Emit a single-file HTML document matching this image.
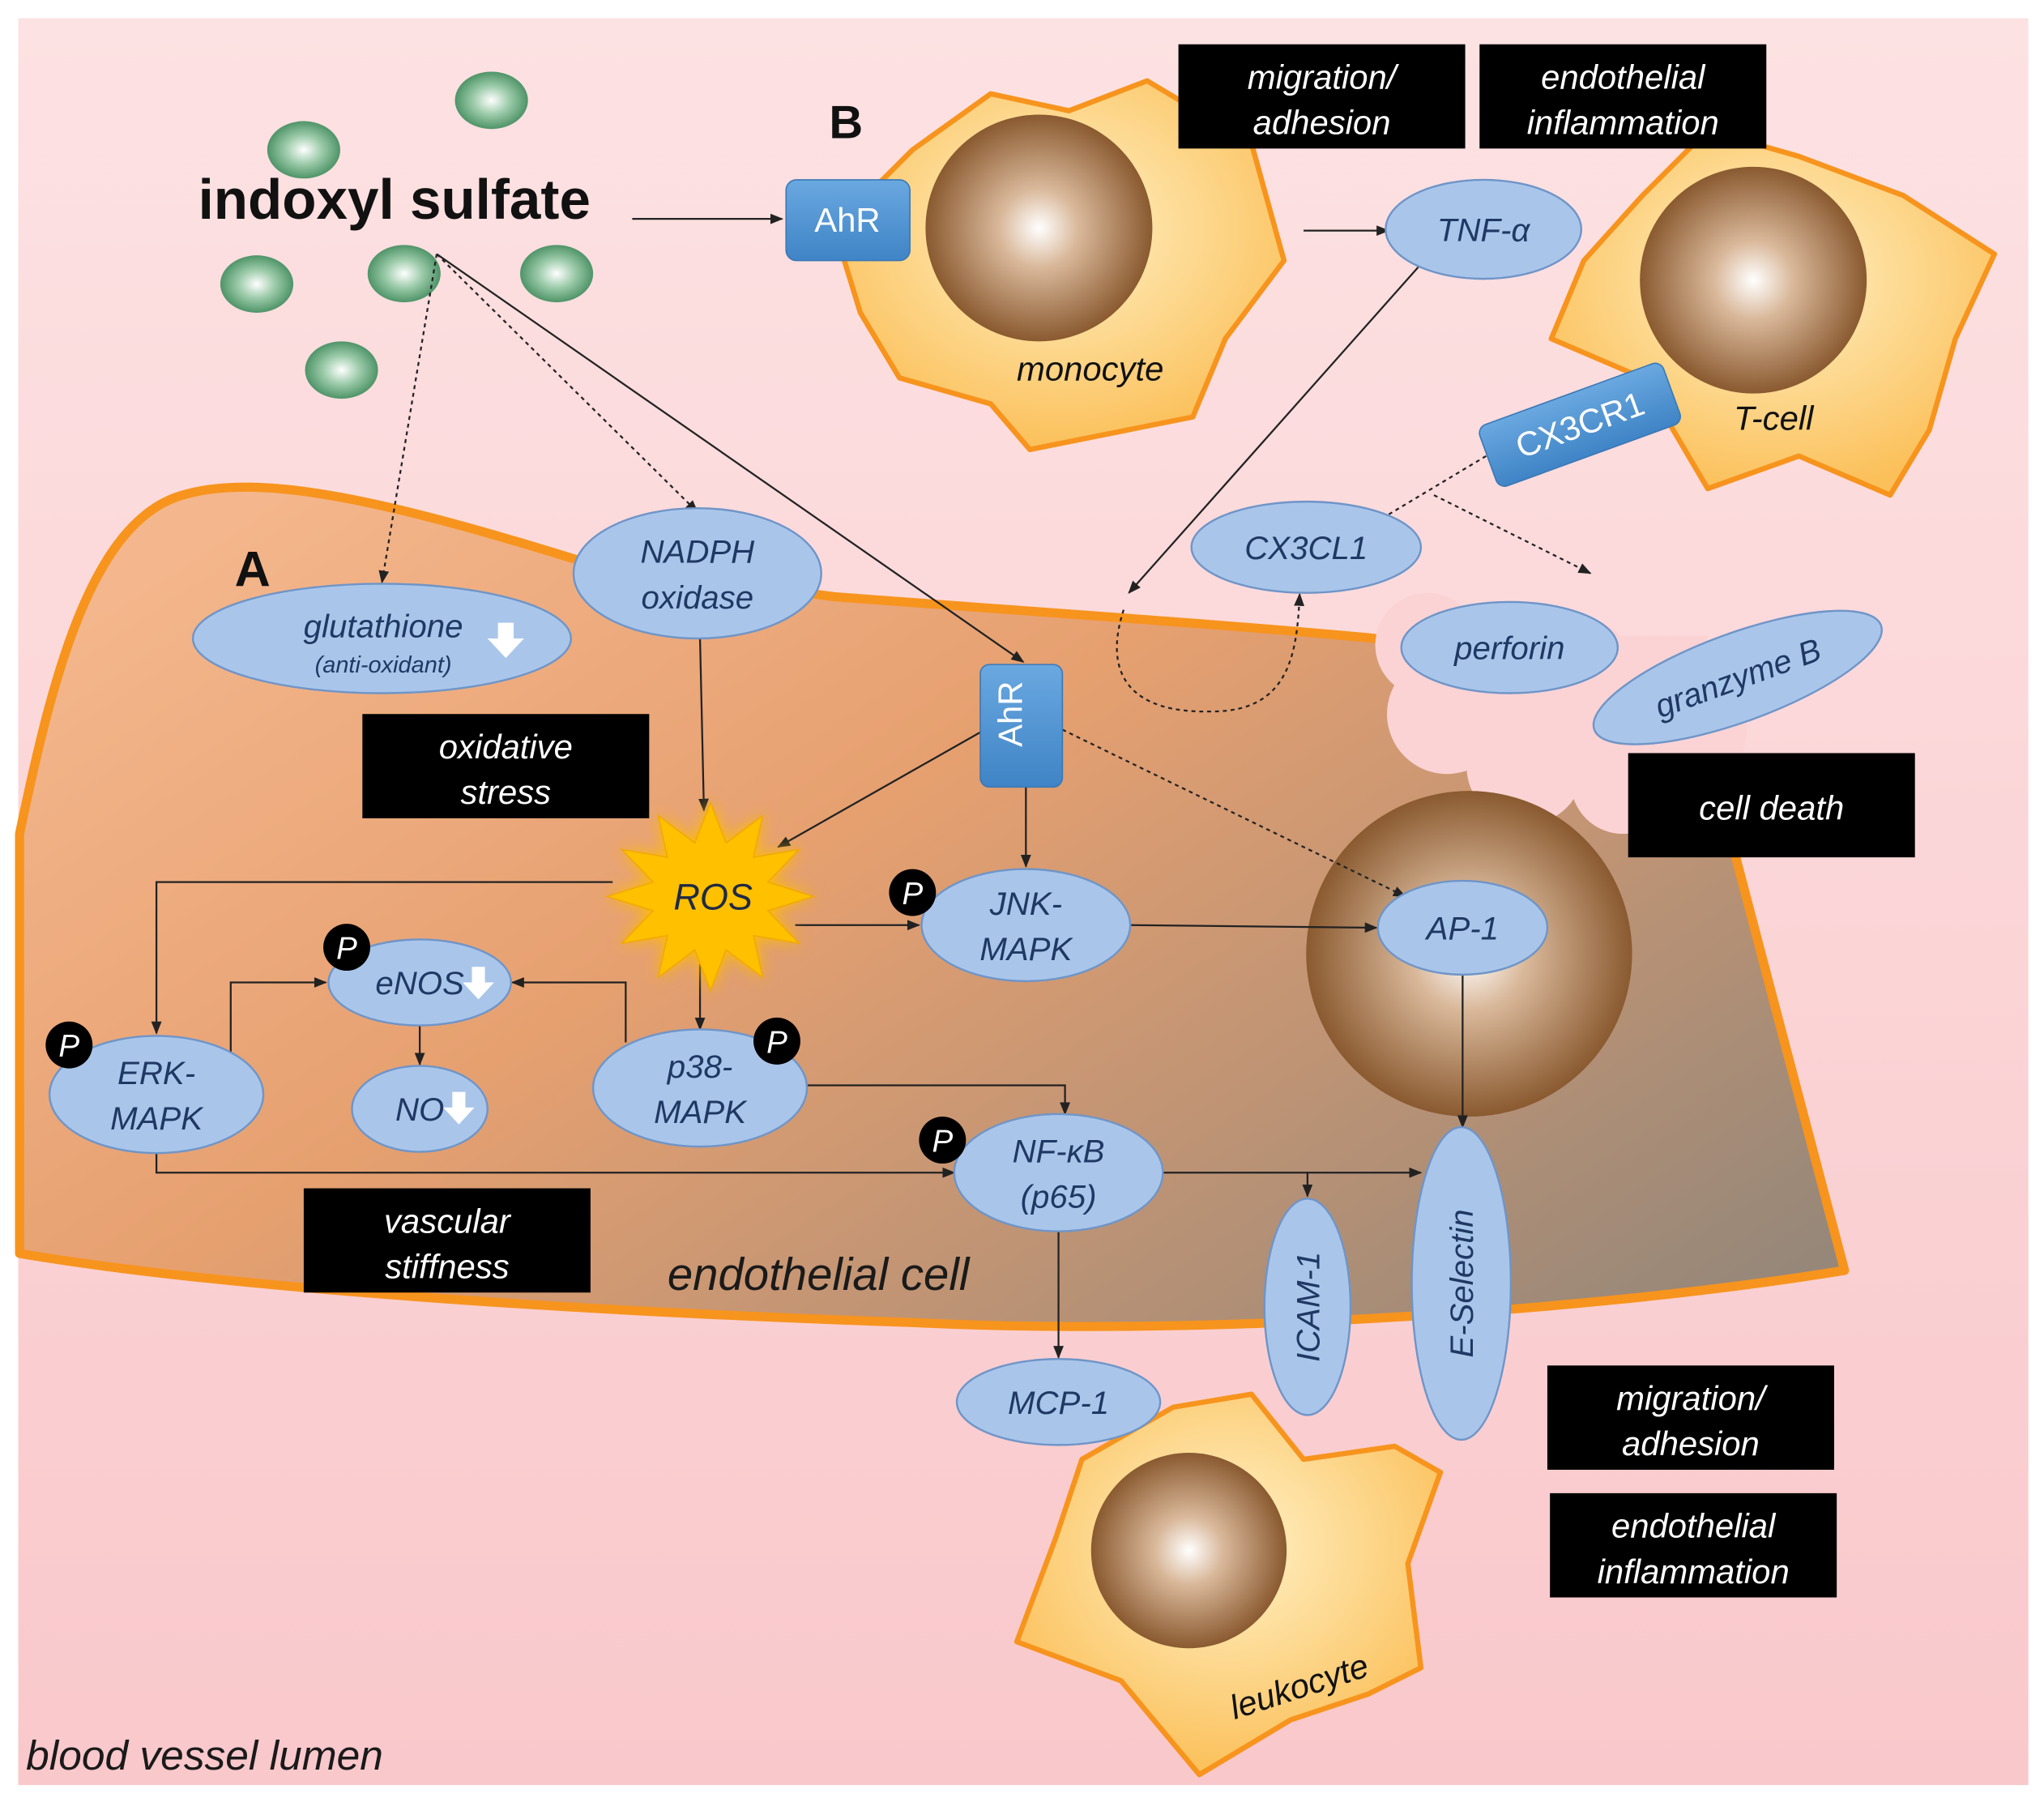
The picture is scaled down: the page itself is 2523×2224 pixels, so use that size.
<!DOCTYPE html>
<html><head><meta charset="utf-8"><style>html,body{margin:0;padding:0;background:#fff}svg{display:block}</style></head><body>
<svg width="2523" height="2224" viewBox="0 0 1568 1383" preserveAspectRatio="none" xmlns="http://www.w3.org/2000/svg" font-family="Liberation Sans, sans-serif">
<defs>
<linearGradient id="bg" x1="0" y1="0" x2="0" y2="1"><stop offset="0" stop-color="#fde2e3"/><stop offset="1" stop-color="#f9c8cb"/></linearGradient>
<linearGradient id="cell" x1="0" y1="0.2" x2="1" y2="0.9"><stop offset="0" stop-color="#f4b68c"/><stop offset="0.4" stop-color="#e6a070"/><stop offset="1" stop-color="#968779"/></linearGradient>
<radialGradient id="nuc" cx="0.5" cy="0.5" r="0.5"><stop offset="0" stop-color="#ffffff"/><stop offset="0.35" stop-color="#d9b89a"/><stop offset="1" stop-color="#8a5a30"/></radialGradient>
<radialGradient id="yc" cx="0.5" cy="0.4" r="0.6"><stop offset="0" stop-color="#fff2c8"/><stop offset="1" stop-color="#fbc05a"/></radialGradient>
<radialGradient id="gb" cx="0.5" cy="0.5" r="0.5"><stop offset="0" stop-color="#ffffff"/><stop offset="0.5" stop-color="#9ccbaa"/><stop offset="1" stop-color="#4f9468"/></radialGradient>
<linearGradient id="ahr" x1="0" y1="0" x2="0" y2="1"><stop offset="0" stop-color="#6aa8e0"/><stop offset="1" stop-color="#3f84c6"/></linearGradient>
<filter id="glow" x="-50%" y="-50%" width="200%" height="200%"><feGaussianBlur stdDeviation="6" result="b"/><feMerge><feMergeNode in="b"/><feMergeNode in="SourceGraphic"/></feMerge></filter>
<marker id="ar" markerWidth="10" markerHeight="8" refX="9" refY="4" orient="auto" markerUnits="userSpaceOnUse"><path d="M0,0 L10,4 L0,8 z" fill="#222"/></marker>
</defs>
<rect x="0" y="0" width="1568" height="1383" fill="#fff"/>
<rect x="14" y="14" width="1542" height="1356" fill="url(#bg)"/>

<path d="M15,640 C40,520 70,400 140,380 C200,362 300,385 450,432 L640,458 C800,470 950,480 1055,490 L1290,500 L1415,975 C1200,1010 900,1025 700,1015 C400,1005 150,985 15,962 Z" fill="url(#cell)" stroke="#f7941d" stroke-width="7" stroke-linejoin="round"/>
<g fill="#fbd3d5">
<circle cx="1095" cy="495" r="40"/><circle cx="1110" cy="548" r="46"/><circle cx="1170" cy="588" r="45"/><circle cx="1245" cy="600" r="40"/><circle cx="1200" cy="530" r="60"/><circle cx="1290" cy="560" r="50"/><rect x="1080" y="488" width="230" height="50"/>
</g>
<circle cx="1127" cy="732" r="125" fill="url(#nuc)"/>

<g fill="url(#gb)">
<ellipse cx="377" cy="77" rx="28" ry="22"/><ellipse cx="233" cy="115" rx="28" ry="22"/><ellipse cx="197" cy="218" rx="28" ry="22"/><ellipse cx="310" cy="210" rx="28" ry="22"/><ellipse cx="427" cy="210" rx="28" ry="22"/><ellipse cx="262" cy="284" rx="28" ry="22"/>
</g>
<text x="152" y="168" font-size="43" font-weight="bold" fill="#111">indoxyl sulfate</text>
<text x="636" y="106" font-size="36" font-weight="bold" fill="#111">B</text>
<text x="180" y="450" font-size="38" font-weight="bold" fill="#111">A</text>

<polygon points="640,175 700,115 760,72 820,85 880,62 960,110 985,200 940,260 915,320 790,345 760,310 690,290 660,240" fill="url(#yc)" stroke="#f7941d" stroke-width="4" stroke-linejoin="round"/>
<circle cx="797" cy="175" r="87" fill="url(#nuc)"/>
<text x="780" y="292" font-size="26" font-style="italic" fill="#111">monocyte</text>
<polygon points="1215,200 1260,150 1310,100 1380,120 1460,150 1530,195 1500,260 1480,330 1450,380 1380,350 1310,375 1260,290 1190,260" fill="url(#yc)" stroke="#f7941d" stroke-width="4" stroke-linejoin="round"/>
<circle cx="1345" cy="215" r="87" fill="url(#nuc)"/>
<text x="1330" y="330" font-size="26" font-style="italic" fill="#111">T-cell</text>
<polygon points="830,1120 900,1080 960,1070 1000,1120 1070,1110 1105,1130 1080,1200 1090,1280 1050,1300 990,1320 920,1362 860,1290 780,1260 810,1180" fill="url(#yc)" stroke="#f7941d" stroke-width="4" stroke-linejoin="round"/>
<circle cx="912" cy="1190" r="75" fill="url(#nuc)"/>
<text x="940" y="1305" font-size="26" font-style="italic" fill="#111" transform="rotate(-18 990 1290)">leukocyte</text>

<g fill="#000"><rect x="904" y="34" width="220" height="80"/><rect x="1135" y="34" width="220" height="80"/><rect x="278" y="548" width="220" height="80"/><rect x="1249" y="578" width="220" height="80"/><rect x="233" y="912" width="220" height="80"/><rect x="1187" y="1048" width="220" height="80"/><rect x="1189" y="1146" width="220" height="80"/></g>
<g fill="#fff" font-size="26" font-style="italic" text-anchor="middle">
<text x="1014" y="68">migration/</text><text x="1014" y="103">adhesion</text>
<text x="1245" y="68">endothelial</text><text x="1245" y="103">inflammation</text>
<text x="388" y="582">oxidative</text><text x="388" y="617">stress</text>
<text x="1359" y="629">cell death</text>
<text x="343" y="946">vascular</text><text x="343" y="981">stiffness</text>
<text x="1297" y="1082">migration/</text><text x="1297" y="1117">adhesion</text>
<text x="1299" y="1180">endothelial</text><text x="1299" y="1215">inflammation</text>
</g>

<g stroke="#222" stroke-width="1.4" fill="none">
<line x1="485" y1="168" x2="600" y2="168" marker-end="url(#ar)"/>
<line x1="1000" y1="177" x2="1065" y2="177" marker-end="url(#ar)"/>
<line x1="1088" y1="205" x2="866" y2="455" marker-end="url(#ar)"/>
<line x1="335" y1="195" x2="293" y2="447" stroke-dasharray="3,3" marker-end="url(#ar)"/>
<line x1="335" y1="195" x2="535" y2="393" stroke-dasharray="3,3" marker-end="url(#ar)"/>
<line x1="335" y1="195" x2="785" y2="508" marker-end="url(#ar)"/>
<path d="M862,468 C845,520 870,548 930,546 C990,546 995,500 997,456" stroke-dasharray="3,3" marker-end="url(#ar)"/>
<line x1="1140" y1="350" x2="1065" y2="395" stroke-dasharray="3,3"/>
<line x1="1100" y1="380" x2="1220" y2="440" stroke-dasharray="3,3" marker-end="url(#ar)"/>
<line x1="537" y1="490" x2="540" y2="622" marker-end="url(#ar)"/>
<line x1="752" y1="562" x2="597" y2="650" marker-end="url(#ar)"/>
<line x1="787" y1="604" x2="787" y2="665" marker-end="url(#ar)"/>
<line x1="815" y1="560" x2="1078" y2="688" stroke-dasharray="3,3" marker-end="url(#ar)"/>
<line x1="610" y1="710" x2="705" y2="710" marker-end="url(#ar)"/>
<line x1="867" y1="710" x2="1056" y2="712" marker-end="url(#ar)"/>
<polyline points="470,677 120,677 120,793" marker-end="url(#ar)"/>
<polyline points="177,808 177,754 250,754" marker-end="url(#ar)"/>
<polyline points="480,800 480,754 393,754" marker-end="url(#ar)"/>
<line x1="322" y1="787" x2="322" y2="817" marker-end="url(#ar)"/>
<line x1="537" y1="740" x2="537" y2="790" marker-end="url(#ar)"/>
<polyline points="618,833 817,833 817,855" marker-end="url(#ar)"/>
<polyline points="120,885 120,900 732,900" marker-end="url(#ar)"/>
<polyline points="892,900 1003,900 1003,918" marker-end="url(#ar)"/>
<line x1="1003" y1="900" x2="1090" y2="900" marker-end="url(#ar)"/>
<line x1="812" y1="945" x2="812" y2="1042" marker-end="url(#ar)"/>
<line x1="1122" y1="748" x2="1122" y2="865" marker-end="url(#ar)"/>
</g>

<rect x="603" y="138" width="95" height="62" rx="8" fill="url(#ahr)" stroke="#3a78b5"/>
<text x="650" y="178" font-size="26" fill="#fff" text-anchor="middle">AhR</text>
<rect x="752" y="510" width="63" height="94" rx="7" fill="url(#ahr)" stroke="#3a78b5"/>
<text x="793" y="557" font-size="26" fill="#fff" text-anchor="middle" transform="rotate(-90 784 557)">AhR</text>
<g transform="rotate(-20 1212 326)"><rect x="1137" y="301" width="150" height="50" rx="7" fill="url(#ahr)" stroke="#3a78b5"/><text x="1212" y="335" font-size="26" fill="#fff" text-anchor="middle">CX3CR1</text></g>

<polygon filter="url(#glow)" points="624,688 589,677 613,652 578,658 585,626 557,647 545,616 533,647 505,626 512,658 477,652 501,677 466,688 501,699 477,724 512,718 505,750 533,729 545,760 557,729 585,750 578,718 613,724 589,699" fill="#ffc000" stroke="#f2a900"/>
<text x="547" y="698" font-size="28" font-style="italic" fill="#1f2a44" text-anchor="middle">ROS</text>

<g fill="#a9c6ea" stroke="#6f95c8" stroke-width="1.5">
<ellipse cx="1138" cy="176" rx="75" ry="38"/>
<ellipse cx="1002" cy="420" rx="88" ry="35"/>
<ellipse cx="1158" cy="497" rx="83" ry="35"/>
<ellipse cx="1333" cy="520" rx="117" ry="34" transform="rotate(-20 1333 520)"/>
<ellipse cx="535" cy="440" rx="95" ry="50"/>
<ellipse cx="293" cy="490" rx="145" ry="42"/>
<ellipse cx="787" cy="710" rx="80" ry="43"/>
<ellipse cx="1122" cy="712" rx="65" ry="36"/>
<ellipse cx="322" cy="754" rx="70" ry="33"/>
<ellipse cx="120" cy="840" rx="82" ry="45"/>
<ellipse cx="322" cy="851" rx="52" ry="33"/>
<ellipse cx="537" cy="835" rx="82" ry="45"/>
<ellipse cx="812" cy="900" rx="80" ry="45"/>
<ellipse cx="1003" cy="1003" rx="33" ry="83"/>
<ellipse cx="1121" cy="985" rx="38" ry="120"/>
<ellipse cx="812" cy="1076" rx="78" ry="33"/>
</g>
<g font-size="25" font-style="italic" fill="#1f3864" text-anchor="middle">
<text x="1138" y="185">TNF-α</text>
<text x="1002" y="429">CX3CL1</text>
<text x="1158" y="506">perforin</text>
<text x="1333" y="529" transform="rotate(-20 1333 520)">granzyme B</text>
<text x="535" y="432">NADPH</text><text x="535" y="467">oxidase</text>
<text x="294" y="489">glutathione</text><text x="294" y="516" font-size="18">(anti-oxidant)</text>
<text x="787" y="702">JNK-</text><text x="787" y="737">MAPK</text>
<text x="1122" y="721">AP-1</text>
<text x="322" y="763">eNOS</text>
<text x="120" y="832">ERK-</text><text x="120" y="867">MAPK</text>
<text x="322" y="860">NO</text>
<text x="537" y="827">p38-</text><text x="537" y="862">MAPK</text>
<text x="812" y="892">NF-κB</text><text x="812" y="927">(p65)</text>
<text x="1003" y="1012" transform="rotate(-90 1003 1003)">ICAM-1</text>
<text x="1121" y="994" transform="rotate(-90 1121 985)">E-Selectin</text>
<text x="812" y="1085">MCP-1</text>
</g>
<g fill="#fff">
<path d="M382,478 h12 v12 h8 l-14,15 l-14,-15 h8 z"/>
<path d="M362,742 h10 v12 h7 l-12,13 l-12,-13 h7 z"/>
<path d="M347,838 h10 v12 h7 l-12,13 l-12,-13 h7 z"/>
</g>
<g fill="#000"><circle cx="700" cy="685" r="18"/><circle cx="266" cy="727" r="18"/><circle cx="53" cy="802" r="18"/><circle cx="596" cy="799" r="18"/><circle cx="723" cy="875" r="18"/></g>
<g fill="#fff" font-size="24" font-style="italic" text-anchor="middle"><text x="700" y="694">P</text><text x="266" y="736">P</text><text x="53" y="811">P</text><text x="596" y="808">P</text><text x="723" y="884">P</text></g>

<text x="512" y="990" font-size="35" font-style="italic" fill="#1a1a1a">endothelial cell</text>
<text x="20" y="1358" font-size="32" font-style="italic" fill="#1a1a1a">blood vessel lumen</text>
</svg>
</body></html>
